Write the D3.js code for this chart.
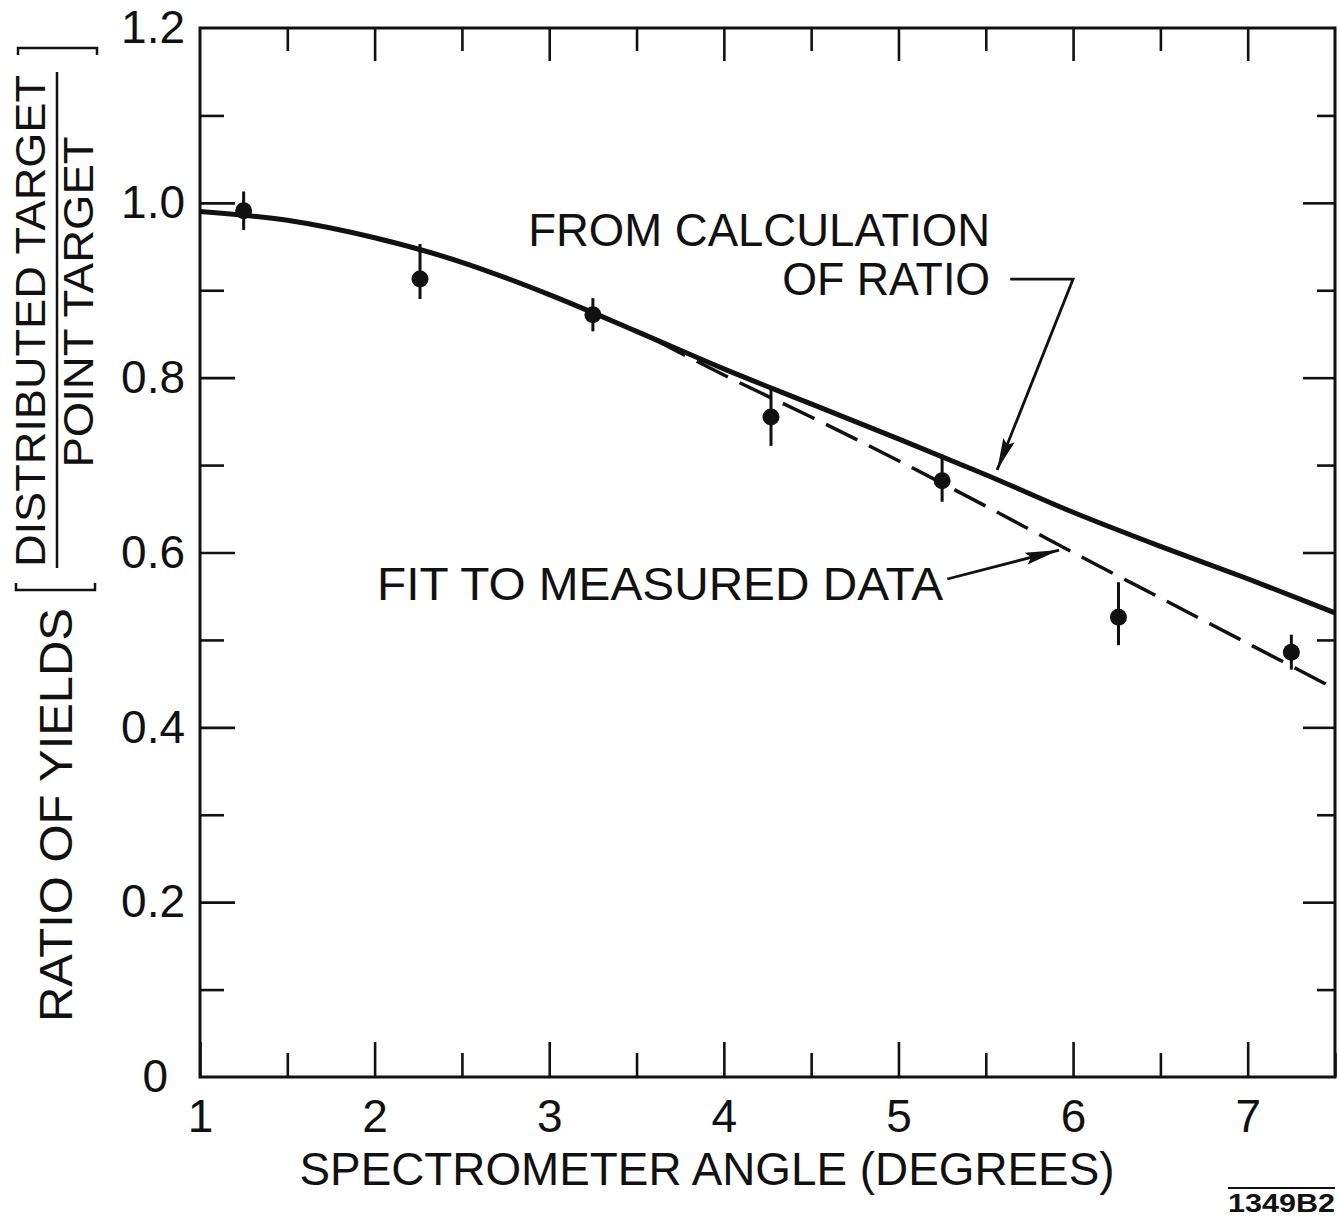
<!DOCTYPE html>
<html>
<head>
<meta charset="utf-8">
<script src="https://cdn.jsdelivr.net/npm/d3@7"></script>
<style>
  html, body { margin: 0; padding: 0; background: #fff; }
  svg { display: block; }
  text { font-family: "Liberation Sans", "DejaVu Sans", sans-serif; fill: #111; }
</style>
</head>
<body>
<svg id="chart" width="1340" height="1216"></svg>
<script>
// ---------- data ----------
const measuredAngle = [1.25, 2.26, 3.25, 4.27, 5.25, 6.26, 7.25];
const measuredRatio = [0.991, 0.913, 0.872, 0.755, 0.682, 0.526, 0.486];
const measuredErrLo = [0.022, 0.023, 0.019, 0.033, 0.024, 0.032, 0.020];
const measuredErrHi = [0.022, 0.040, 0.019, 0.031, 0.030, 0.040, 0.020];

const calcAngle = [1.0, 1.5, 2.0, 2.5, 3.0, 3.5, 4.0, 4.5, 5.0, 5.5, 6.0, 6.5, 7.0, 7.5];
const calcRatio = [0.990, 0.980, 0.960, 0.932, 0.895, 0.853, 0.810, 0.770, 0.730, 0.689, 0.646, 0.607, 0.570, 0.531];

const fitAngle = [3.6, 4.0, 4.5, 5.0, 5.5, 6.0, 6.5, 7.0, 7.5];
const fitRatio = [0.844, 0.803, 0.755, 0.705, 0.653, 0.600, 0.548, 0.496, 0.444];

const xMajorTicks = [1, 2, 3, 4, 5, 6, 7];
const xMinorTicks = [1.5, 2.5, 3.5, 4.5, 5.5, 6.5, 7.5];
const yMajorTicks = [0, 0.2, 0.4, 0.6, 0.8, 1.0, 1.2];
const yMinorTicks = [0.1, 0.3, 0.5, 0.7, 0.9, 1.1];

const xTitle = "SPECTROMETER ANGLE (DEGREES)";
const yTitle = "RATIO OF YIELDS";
const yFracTop = "DISTRIBUTED TARGET";
const yFracBottom = "POINT TARGET";
const calcLabel = ["FROM CALCULATION", "OF RATIO"];
const fitLabel = "FIT TO MEASURED DATA";
const figId = "1349B2";

// ---------- layout ----------
const svg = d3.select("#chart");
const L = 200, T = 28, W = 1135, H = 1049;
const x = d3.scaleLinear().domain([1, 7.5]).range([L, L + W]);
const y = d3.scaleLinear().domain([0, 1.2]).range([T + H, T]);
const FS = 46;

// frame
svg.append("rect").attr("x", L).attr("y", T).attr("width", W).attr("height", H)
  .attr("fill", "none").attr("stroke", "#111").attr("stroke-width", 3);

function styleAxis(g) {
  g.select(".domain").remove();
  g.selectAll(".tick line").attr("stroke", "#111").attr("stroke-width", 2.6);
  g.selectAll("text").attr("font-size", FS).style("font-family", '"Liberation Sans", "DejaVu Sans", sans-serif').attr("fill", "#111");
}

// bottom axis
svg.append("g").attr("transform", `translate(0,${T + H})`)
  .call(d3.axisBottom(x).tickValues(xMajorTicks).tickSize(-35).tickPadding(22).tickFormat(d3.format("d")))
  .call(styleAxis);
svg.append("g").attr("transform", `translate(0,${T + H})`)
  .call(d3.axisBottom(x).tickValues(xMinorTicks).tickSize(-24).tickFormat(""))
  .call(styleAxis);
// top axis
svg.append("g").attr("transform", `translate(0,${T})`)
  .call(d3.axisTop(x).tickValues(xMajorTicks.filter(d => d > 1)).tickSize(-33).tickFormat(""))
  .call(styleAxis);
svg.append("g").attr("transform", `translate(0,${T})`)
  .call(d3.axisTop(x).tickValues(xMinorTicks.filter(d => d < 7.5)).tickSize(-23).tickFormat(""))
  .call(styleAxis);
// left axis
const yl = svg.append("g").attr("transform", `translate(${L},0)`)
  .call(d3.axisLeft(y).tickValues(yMajorTicks).tickSize(-35).tickPadding(15).tickFormat(d => d === 0 ? "0" : d3.format(".1f")(d)))
  .call(styleAxis);
yl.selectAll(".tick").filter(d => d === 0).select("text").attr("dx", -17);
yl.selectAll(".tick").filter(d => d === 0 || d === 1.2).select("line").remove();
svg.append("g").attr("transform", `translate(${L},0)`)
  .call(d3.axisLeft(y).tickValues(yMinorTicks).tickSize(-24).tickFormat(""))
  .call(styleAxis);
// right axis
svg.append("g").attr("transform", `translate(${L + W},0)`)
  .call(d3.axisRight(y).tickValues(yMajorTicks.filter(d => d > 0 && d < 1.2)).tickSize(-32).tickFormat(""))
  .call(styleAxis);
svg.append("g").attr("transform", `translate(${L + W},0)`)
  .call(d3.axisRight(y).tickValues(yMinorTicks).tickSize(-18).tickFormat(""))
  .call(styleAxis);

// curves
const line = d3.line().x(d => x(d[0])).y(d => y(d[1])).curve(d3.curveMonotoneX);
svg.append("path").datum(d3.zip(calcAngle, calcRatio)).attr("d", line)
  .attr("fill", "none").attr("stroke", "#111").attr("stroke-width", 5);
svg.append("path").datum(d3.zip(fitAngle, fitRatio)).attr("d", line)
  .attr("fill", "none").attr("stroke", "#111").attr("stroke-width", 3.5)
  .attr("stroke-dasharray", "35 13");

// data points with error bars
const pts = measuredAngle.map((a, i) => ({ a, r: measuredRatio[i], lo: measuredErrLo[i], hi: measuredErrHi[i] }));
svg.append("g").selectAll("line").data(pts).join("line")
  .attr("x1", d => x(d.a)).attr("x2", d => x(d.a))
  .attr("y1", d => y(d.r - d.lo)).attr("y2", d => y(d.r + d.hi))
  .attr("stroke", "#111").attr("stroke-width", 3);
svg.append("g").selectAll("circle").data(pts).join("circle")
  .attr("cx", d => x(d.a)).attr("cy", d => y(d.r)).attr("r", 8.5).attr("fill", "#111");

// arrowheads
function arrowHead(x0, y0, x1, y1, len, half) {
  const dx = x1 - x0, dy = y1 - y0, n = Math.hypot(dx, dy);
  const ux = dx / n, uy = dy / n;
  const bx = x1 - ux * len, by = y1 - uy * len;
  const px = -uy * half, py = ux * half;
  svg.append("path").attr("d", `M${x1},${y1}L${bx + px},${by + py}L${bx - ux * len * -0.15},${by - uy * len * -0.15}L${bx - px},${by - py}Z`)
    .attr("fill", "#111");
}

// calculation annotation
const calcTextEnd = 5.525;
svg.append("text").attr("x", x(calcTextEnd)).attr("y", y(0.9506)).attr("text-anchor", "end")
  .attr("font-size", FS).attr("textLength", 462).attr("lengthAdjust", "spacingAndGlyphs").text(calcLabel[0]);
svg.append("text").attr("x", x(calcTextEnd)).attr("y", y(0.8945)).attr("text-anchor", "end")
  .attr("font-size", FS).attr("textLength", 208).attr("lengthAdjust", "spacingAndGlyphs").text(calcLabel[1]);
const cA = [[5.64, 0.9128], [6.0, 0.9128], [5.565, 0.6943]];
svg.append("path").attr("d", d3.line().x(d => x(d[0])).y(d => y(d[1]))(cA))
  .attr("fill", "none").attr("stroke", "#111").attr("stroke-width", 2.8);
arrowHead(x(cA[1][0]), y(cA[1][1]), x(cA[2][0]), y(cA[2][1]), 32, 6);

// fit annotation
svg.append("text").attr("x", x(5.255)).attr("y", y(0.5456)).attr("text-anchor", "end")
  .attr("font-size", FS).attr("textLength", 566).attr("lengthAdjust", "spacingAndGlyphs").text(fitLabel);
const fA = [[5.28, 0.5697], [5.92, 0.6028]];
svg.append("path").attr("d", d3.line().x(d => x(d[0])).y(d => y(d[1]))(fA))
  .attr("fill", "none").attr("stroke", "#111").attr("stroke-width", 2.8);
arrowHead(x(fA[0][0]), y(fA[0][1]), x(fA[1][0]), y(fA[1][1]), 34, 6);

// x title
svg.append("text").attr("x", 707).attr("y", 1185).attr("text-anchor", "middle")
  .attr("font-size", FS).attr("textLength", 815).attr("lengthAdjust", "spacingAndGlyphs").text(xTitle);

// y title
svg.append("text").attr("transform", "translate(72,815) rotate(-90)").attr("text-anchor", "middle")
  .attr("font-size", FS).attr("textLength", 414).attr("lengthAdjust", "spacingAndGlyphs").text(yTitle);
svg.append("text").attr("transform", "translate(45,321) rotate(-90)").attr("text-anchor", "middle")
  .attr("font-size", 42).attr("textLength", 492).attr("lengthAdjust", "spacingAndGlyphs").text(yFracTop);
svg.append("text").attr("transform", "translate(93,302) rotate(-90)").attr("text-anchor", "middle")
  .attr("font-size", 42).attr("textLength", 331).attr("lengthAdjust", "spacingAndGlyphs").text(yFracBottom);
// fraction bar and brackets
svg.append("line").attr("x1", 57).attr("x2", 57).attr("y1", 72).attr("y2", 568)
  .attr("stroke", "#111").attr("stroke-width", 2.5);
svg.append("path").attr("d", "M18,55 L18,48 L97,48 L97,55").attr("fill", "none").attr("stroke", "#111").attr("stroke-width", 2.5);
svg.append("path").attr("d", "M16,583 L16,590 L95,590 L95,583").attr("fill", "none").attr("stroke", "#111").attr("stroke-width", 2.5);

// figure id
svg.append("line").attr("x1", 1228).attr("x2", 1335).attr("y1", 1188).attr("y2", 1188)
  .attr("stroke", "#111").attr("stroke-width", 2);
svg.append("text").attr("x", 1335).attr("y", 1212).attr("text-anchor", "end")
  .attr("font-size", 25).attr("font-weight", "bold").attr("textLength", 107).attr("lengthAdjust", "spacingAndGlyphs").text(figId);
</script>
</body>
</html>
